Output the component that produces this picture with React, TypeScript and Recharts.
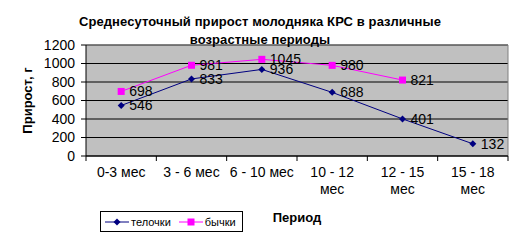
import React from 'react';
import { LineChart, Line, XAxis, YAxis, CartesianGrid, ReferenceLine, LabelList, Legend, Text } from 'recharts';

const categories = ['0-3 мес', '3 - 6 мес', '6 - 10 мес', '10 - 12 мес', '12 - 15 мес', '15 - 18 мес'];
const heifers = [546, 833, 936, 688, 401, 132];
const bulls: (number | null)[] = [698, 981, 1045, 980, 821, null];
const yTicks = [0, 200, 400, 600, 800, 1000, 1200];

const W = 522;
const H = 245;
const LEFT = 86;
const RIGHT = 14;
const TOP = 45;
const BOTTOM = 89;
const BAND = (W - LEFT - RIGHT) / categories.length;
const FONT = 'Arial, "Liberation Sans", sans-serif';

const data = categories.map((name, i) => ({
  x: i + 0.5,
  name,
  heifers: heifers[i],
  bulls: bulls[i]
}));
const xTicks = categories.map((_, i) => i).concat(categories.length);

const Diamond = (props: any) => {
  const { cx, cy, index } = props;
  if (cx == null || cy == null) return <g key={'d' + index} />;
  const r = 3.5;
  return <polygon key={'d' + index} points={`${cx},${cy - r} ${cx + r},${cy} ${cx},${cy + r} ${cx - r},${cy}`} fill="#000080" />;
};

const Square = (props: any) => {
  const { cx, cy, index } = props;
  if (cx == null || cy == null) return <g key={'s' + index} />;
  return <rect key={'s' + index} x={cx - 3.5} y={cy - 3.5} width={7} height={7} fill="#ff00ff" />;
};

const CategoryTick = (props: any) => {
  const { x, y, payload } = props;
  const label = categories[payload.value];
  if (!label) return <g />;
  return <Text x={x + BAND / 2} y={y + 4} width={69} textAnchor="middle" verticalAnchor="start" lineHeight={17} fontSize={14} fontFamily={FONT} fill="#000">
      {label}
    </Text>;
};

const LegendBox = () => <div style={{
  width: 137,
  height: 19,
  border: '1px solid #000',
  background: '#fff',
  display: 'flex',
  alignItems: 'center',
  fontFamily: FONT,
  fontSize: 11,
  paddingLeft: 4,
  boxSizing: 'content-box'
}}>
    <svg width={24} height={10}><line x1={0} y1={5} x2={24} y2={5} stroke="#000080" /><polygon points="12,1.5 15.5,5 12,8.5 8.5,5" fill="#000080" /></svg>
    <span style={{ marginLeft: 2, marginRight: 8 }}>телочки</span>
    <svg width={24} height={10}><line x1={0} y1={5} x2={24} y2={5} stroke="#ff00ff" /><rect x={8.5} y={1.5} width={7} height={7} fill="#ff00ff" /></svg>
    <span style={{ marginLeft: 2 }}>бычки</span>
  </div>;

export default function App() {
  return <div style={{ position: 'absolute', left: 0, top: 0, width: W, height: H, background: '#fff' }}>
      <div style={{
      position: 'absolute',
      left: 60,
      top: 13,
      width: 400,
      textAlign: 'center',
      fontFamily: FONT,
      fontWeight: 'bold',
      fontSize: 13,
      lineHeight: '18px',
      letterSpacing: '0.1px',
      zIndex: 2
    }}>
        Среднесуточный прирост молодняка КРС в различные возрастные периоды
      </div>
      <LineChart width={W} height={H} data={data} margin={{ top: TOP, right: RIGHT, left: 0, bottom: 0 }}>
        <CartesianGrid vertical={false} stroke="#000" fill="#c0c0c0" fillOpacity={1} />
        <ReferenceLine y={1200} stroke="#808080" />
        <ReferenceLine x={categories.length} stroke="#808080" />
        <XAxis type="number" dataKey="x" domain={[0, categories.length]} ticks={xTicks} interval={0} height={BOTTOM} tickSize={5} axisLine={{ stroke: '#000' }} tickLine={{ stroke: '#000' }} tick={<CategoryTick />} label={{
        content: (p: any) => <text x={p.viewBox.x + p.viewBox.width / 2} y={p.viewBox.y + 66} textAnchor="middle" fontFamily={FONT} fontWeight="bold" fontSize={13} fill="#000">Период</text>
      }} />
        <YAxis domain={[0, 1200]} ticks={yTicks} interval={0} width={LEFT} tickSize={5} tickMargin={6} axisLine={{ stroke: '#000' }} tickLine={{ stroke: '#000' }} tick={{ fill: '#000', fontSize: 14, fontFamily: FONT }} label={{
        content: (p: any) => {
          const cx = p.viewBox.x + 27;
          const cy = p.viewBox.y + p.viewBox.height / 2;
          return <text x={cx} y={cy} transform={`rotate(-90 ${cx} ${cy})`} textAnchor="middle" dominantBaseline="central" fontFamily={FONT} fontWeight="bold" fontSize={13} fill="#000">Прирост, г</text>;
        }
      }} />
        <Line dataKey="heifers" name="телочки" stroke="#000080" strokeWidth={1} dot={Diamond} activeDot={false} isAnimationActive={false}>
          <LabelList dataKey="heifers" position="right" offset={8} fill="#000" fontSize={14} fontFamily={FONT} />
        </Line>
        <Line dataKey="bulls" name="бычки" stroke="#ff00ff" strokeWidth={1} dot={Square} activeDot={false} isAnimationActive={false}>
          <LabelList dataKey="bulls" position="right" offset={8} fill="#000" fontSize={14} fontFamily={FONT} />
        </Line>
        <Legend layout="horizontal" verticalAlign="middle" align="center" content={<LegendBox />} wrapperStyle={{ left: 100, top: 211, width: 'auto' }} />
      </LineChart>
    </div>;
}
